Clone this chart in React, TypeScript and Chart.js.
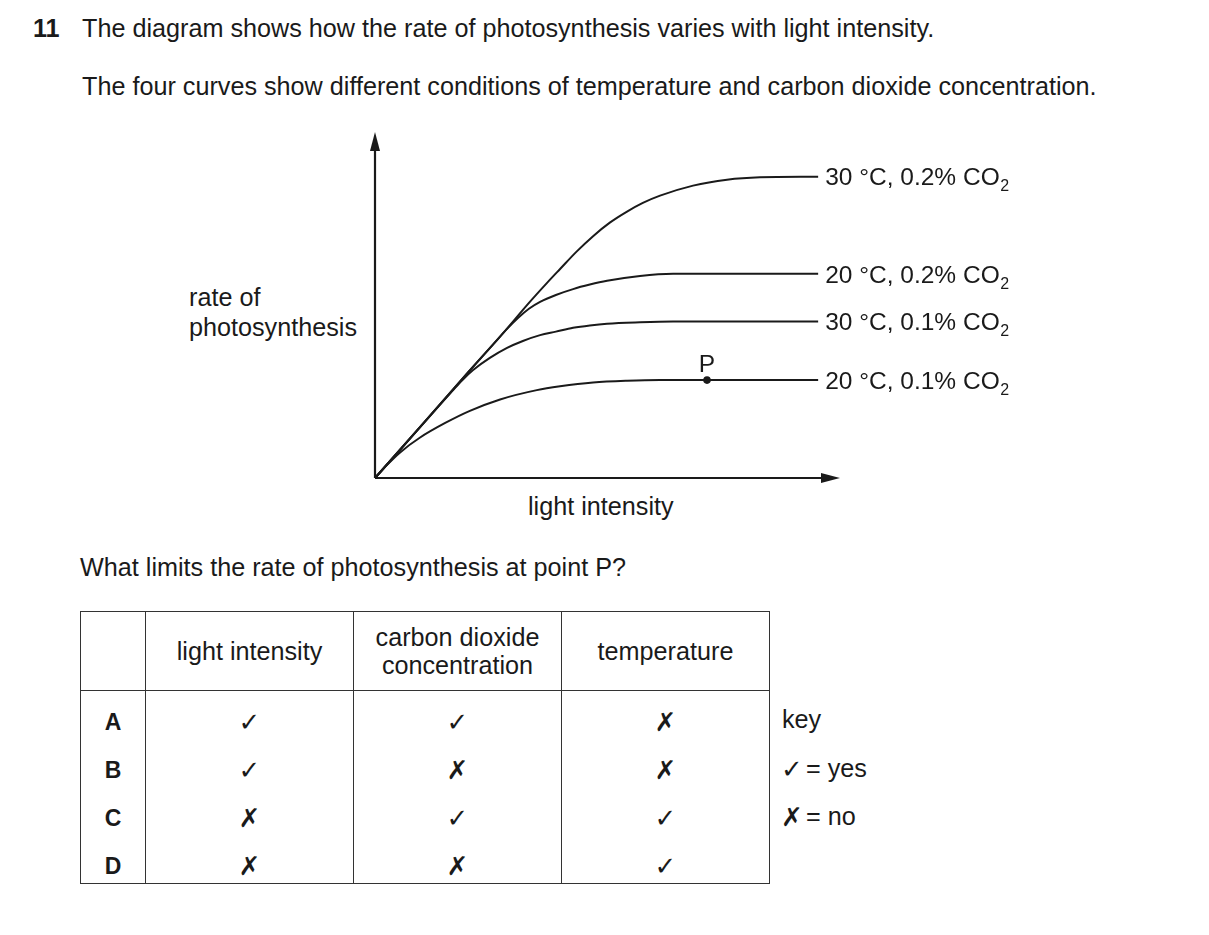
import React, { useEffect, useRef } from "react";
import { Chart, registerables } from "chart.js";

Chart.register(...registerables);

// ---------- data ----------
const curveTemps = ["30 °C", "20 °C", "30 °C", "20 °C"];
const curveCO2 = ["0.2%", "0.2%", "0.1%", "0.1%"];

// 30 °C, 0.2% CO2
const c1X = [0, 10, 20, 27.5, 33.3, 37.0, 39.8, 43.4, 46.9, 50.5, 54.2, 57.6, 61.3, 68.4, 75.7, 82.8, 95.3];
const c1Y = [0, 15.2, 30.5, 41.8, 50.9, 56.4, 60.4, 65.5, 69.9, 73.8, 77.0, 79.5, 81.6, 84.5, 86.2, 86.9, 87.1];
// 20 °C, 0.2% CO2
const c2X = [0, 10, 20, 25.8, 28.4, 30.8, 33.1, 35.5, 38.9, 42.6, 46.2, 49.9, 57.0, 64.1, 95.3];
const c2Y = [0, 15.2, 30.5, 39.2, 43.1, 46.3, 48.9, 50.9, 52.9, 54.6, 55.9, 57.0, 58.4, 59.0, 59.0];
// 30 °C, 0.1% CO2
const c3X = [0, 7, 14.0, 16.6, 18.7, 21.1, 24.7, 28.4, 31.8, 35.5, 38.9, 42.6, 46.2, 49.9, 57.0, 64.1, 95.3];
const c3Y = [0, 10.6, 21.2, 25.1, 28.2, 31.2, 34.7, 37.6, 39.6, 41.3, 42.3, 43.4, 44.1, 44.6, 45.0, 45.2, 45.2];
// 20 °C, 0.1% CO2
const c4X = [0, 2.6, 5.4, 9.7, 15.1, 20.4, 26.9, 34.8, 39.8, 46.9, 54.2, 61.3, 69.9, 95.3];
const c4Y = [0, 3.8, 7.4, 11.7, 15.9, 19.4, 22.7, 25.4, 26.5, 27.6, 28.1, 28.3, 28.3, 28.3];

const curvesX = [c1X, c2X, c3X, c4X];
const curvesY = [c1Y, c2Y, c3Y, c4Y];

const pointPX = [71.4];
const pointPY = [28.3];
const pointPLabel = "P";

const xMax = 100;
const yMax = 100;

const rowLetters = ["A", "B", "C", "D"];
const colHeaders = ["light intensity", "carbon dioxide\nconcentration", "temperature"];
const lightMarks = [true, true, false, false];
const co2Marks = [true, false, true, false];
const tempMarks = [false, false, true, true];

// ---------- styles ----------
const INK = "#1a1a1a";
const FONT = '"Liberation Sans", Arial, Helvetica, sans-serif';
const MARK_FONT = '"DejaVu Sans", sans-serif';
const FS = 25.2;
const LABEL_FS = 24.5;
const MARK_FS = 26;

const decorPlugin = {
  id: "decor",
  beforeDatasetsDraw(chart: any) {
    const { ctx, chartArea: a } = chart;
    ctx.save();
    ctx.strokeStyle = INK;
    ctx.fillStyle = INK;
    ctx.lineWidth = 2.2;
    ctx.beginPath();
    ctx.moveTo(a.left, a.bottom);
    ctx.lineTo(a.left, a.top + 16);
    ctx.stroke();
    ctx.beginPath();
    ctx.moveTo(a.left, a.bottom);
    ctx.lineTo(a.right - 16, a.bottom);
    ctx.stroke();
    ctx.beginPath();
    ctx.moveTo(a.left, a.top);
    ctx.lineTo(a.left - 5, a.top + 19);
    ctx.lineTo(a.left + 5, a.top + 19);
    ctx.closePath();
    ctx.fill();
    ctx.beginPath();
    ctx.moveTo(a.right, a.bottom);
    ctx.lineTo(a.right - 19, a.bottom - 5);
    ctx.lineTo(a.right - 19, a.bottom + 5);
    ctx.closePath();
    ctx.fill();
    ctx.restore();
  },
  afterDatasetsDraw(chart: any) {
    const { ctx } = chart;
    const xs = chart.scales.x;
    const ys = chart.scales.y;
    ctx.save();
    ctx.fillStyle = INK;
    ctx.textAlign = "left";
    ctx.textBaseline = "alphabetic";
    curvesX.forEach((cx, i) => {
      const cy = curvesY[i];
      const px = xs.getPixelForValue(cx[cx.length - 1]) + 7;
      const py = ys.getPixelForValue(cy[cy.length - 1]);
      const base = py + 8.8;
      const main = `${curveTemps[i]}, ${curveCO2[i]} CO`;
      ctx.font = `${LABEL_FS}px ${FONT}`;
      ctx.fillText(main, px, base);
      const w = ctx.measureText(main).width;
      ctx.font = `16px ${FONT}`;
      ctx.fillText("2", px + w + 0.5, base + 6);
    });
    const ppx = xs.getPixelForValue(pointPX[0]);
    const ppy = ys.getPixelForValue(pointPY[0]);
    ctx.font = `${LABEL_FS}px ${FONT}`;
    ctx.textAlign = "center";
    ctx.fillText(pointPLabel, ppx, ppy - 8);
    ctx.restore();
  },
};

function Txt(props: {
  x: number;
  base: number;
  size?: number;
  bold?: boolean;
  family?: string;
  children: React.ReactNode;
}) {
  const size = props.size ?? FS;
  return (
    <div
      style={{
        position: "absolute",
        left: props.x,
        top: props.base - 0.8465 * size,
        fontSize: size,
        lineHeight: `${size}px`,
        fontWeight: props.bold ? "bold" : "normal",
        fontFamily: props.family ?? FONT,
        whiteSpace: "nowrap",
        color: INK,
      }}
    >
      {props.children}
    </div>
  );
}

function Mark({ yes }: { yes: boolean }) {
  return (
    <span style={{ fontFamily: MARK_FONT, fontSize: MARK_FS, fontWeight: "bold" }}>
      {yes ? "\u2713" : "\u2717"}
    </span>
  );
}

export default function App() {
  const canvasRef = useRef<HTMLCanvasElement | null>(null);

  useEffect(() => {
    if (!canvasRef.current) return;
    const datasets: any[] = curvesX.map((cx, i) => ({
      data: cx.map((x, j) => ({ x, y: curvesY[i][j] })),
      borderColor: INK,
      borderWidth: 2,
      pointRadius: 0,
      fill: false,
      cubicInterpolationMode: "monotone",
      clip: false,
    }));
    datasets.push({
      data: pointPX.map((x, j) => ({ x, y: pointPY[j] })),
      showLine: false,
      pointRadius: 3.8,
      pointBackgroundColor: INK,
      pointBorderColor: INK,
      borderWidth: 0,
      clip: false,
    });
    const chart = new Chart(canvasRef.current, {
      type: "line",
      data: { datasets },
      options: {
        animation: false,
        responsive: false,
        maintainAspectRatio: false,
        layout: { padding: { left: 225, right: 210, top: 22, bottom: 52 } },
        plugins: { legend: { display: false }, tooltip: { enabled: false } },
        scales: {
          x: { type: "linear", min: 0, max: xMax, display: false },
          y: { type: "linear", min: 0, max: yMax, display: false },
        },
      },
      plugins: [decorPlugin],
    } as any);
    return () => chart.destroy();
  }, []);

  const border = "1.5px solid #333";
  const cellBody: React.CSSProperties = {
    padding: "13.5px 0 0 0",
    lineHeight: "34.5px",
    height: 34.5,
    textAlign: "center",
    verticalAlign: "top",
    borderLeft: border,
    borderRight: border,
    color: INK,
  };

  return (
    <div
      style={{
        position: "absolute",
        left: 0,
        top: 0,
        width: 1209,
        height: 935,
        background: "#fff",
        overflow: "hidden",
        fontFamily: FONT,
        color: INK,
      }}
    >
      <Txt x={33} base={37} bold>
        11
      </Txt>
      <Txt x={82} base={37}>
        The diagram shows how the rate of photosynthesis varies with light intensity.
      </Txt>
      <Txt x={82} base={95}>
        The four curves show different conditions of temperature and carbon dioxide concentration.
      </Txt>

      <Txt x={189} base={306}>
        rate of
      </Txt>
      <Txt x={189} base={336}>
        photosynthesis
      </Txt>
      <Txt x={528} base={515}>
        light intensity
      </Txt>

      <canvas
        ref={canvasRef}
        width={900}
        height={420}
        style={{ position: "absolute", left: 150, top: 110, width: 900, height: 420 }}
      />

      <Txt x={80} base={576}>
        What limits the rate of photosynthesis at point P?
      </Txt>

      <table
        style={{
          position: "absolute",
          left: 80,
          top: 611,
          width: 689,
          borderCollapse: "collapse",
          tableLayout: "fixed",
          border: border,
          fontSize: FS,
          fontFamily: FONT,
        }}
      >
        <colgroup>
          <col style={{ width: 65 }} />
          <col style={{ width: 208 }} />
          <col style={{ width: 208 }} />
          <col style={{ width: 208 }} />
        </colgroup>
        <thead>
          <tr style={{ height: 79 }}>
            <th style={{ border: border, fontWeight: "normal" }} />
            {colHeaders.map((h, i) => (
              <th
                key={i}
                style={{
                  border: border,
                  fontWeight: "normal",
                  textAlign: "center",
                  verticalAlign: "middle",
                  lineHeight: "28px",
                  whiteSpace: "pre-line",
                  padding: 0,
                  color: INK,
                }}
              >
                {h}
              </th>
            ))}
          </tr>
        </thead>
        <tbody>
          {rowLetters.map((r, i) => (
            <tr key={r}>
              <td style={{ ...cellBody, fontWeight: "bold", fontSize: 23 }}>{r}</td>
              <td style={cellBody}>
                <Mark yes={lightMarks[i]} />
              </td>
              <td style={cellBody}>
                <Mark yes={co2Marks[i]} />
              </td>
              <td style={cellBody}>
                <Mark yes={tempMarks[i]} />
              </td>
            </tr>
          ))}
        </tbody>
      </table>

      <Txt x={782} base={728}>
        key
      </Txt>
      <Txt x={781} base={778} size={MARK_FS} bold family={MARK_FONT}>
        {"\u2713"}
      </Txt>
      <Txt x={806} base={777}>
        = yes
      </Txt>
      <Txt x={781} base={826} size={MARK_FS} bold family={MARK_FONT}>
        {"\u2717"}
      </Txt>
      <Txt x={806} base={825}>
        = no
      </Txt>
    </div>
  );
}
